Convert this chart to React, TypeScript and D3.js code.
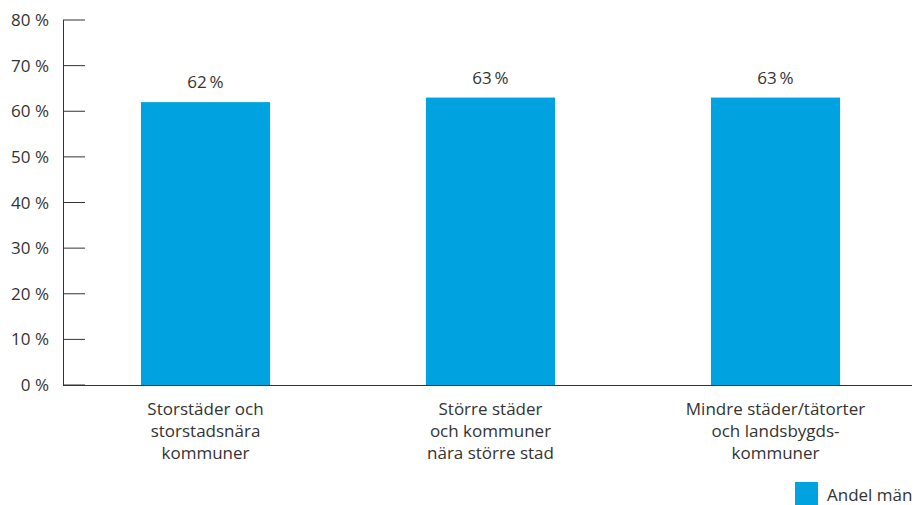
import React from "react";
import * as d3 from "d3";

const categories: string[][] = [
  ["Storstäder och", "storstadsnära", "kommuner"],
  ["Större städer", "och kommuner", "nära större stad"],
  ["Mindre städer/tätorter", "och landsbygds-", "kommuner"],
];
const values: number[] = [62, 63, 63];
const yTicks: number[] = [0, 10, 20, 30, 40, 50, 60, 70, 80];
const seriesName = "Andel män";

const W = 916;
const H = 505;
const FONT = "'Open Sans', sans-serif";
const BAR = "#00a3e0";
const TEXT = "#333333";
const FS = 17;

export default function App() {
  const x = d3
    .scaleBand<number>()
    .domain(values.map((_, i) => i))
    .range([63, 918])
    .paddingInner(0.547)
    .paddingOuter(0.2735);
  const y = d3.scaleLinear().domain([0, 80]).range([385, 20]);

  return (
    <svg
      width={W}
      height={H}
      style={{ position: "absolute", left: 0, top: 0 }}
      fontFamily={FONT}
    >
      {values.map((v, i) => (
        <g key={i}>
          <rect
            x={x(i)!}
            y={y(v)}
            width={x.bandwidth()}
            height={y(0) - y(v)}
            fill={BAR}
          />
          <text
            x={x(i)! + x.bandwidth() / 2}
            y={y(v) - 14}
            textAnchor="middle"
            fontSize={FS}
            fill={TEXT}
          >
            {v}{"\u2009"}%
          </text>
          {categories[i].map((line, j) => (
            <text
              key={j}
              x={x(i)! + x.bandwidth() / 2}
              y={415 + j * 22}
              textAnchor="middle"
              fontSize={FS}
              fill={TEXT}
            >
              {line}
            </text>
          ))}
        </g>
      ))}
      {yTicks.map((t) => (
        <g key={t}>
          <line x1={63} x2={85} y1={y(t)} y2={y(t)} stroke="#333" strokeWidth={1} />
          <text
            x={49}
            y={y(t) + 6}
            textAnchor="end"
            fontSize={FS}
            fill={TEXT}
          >
            {t} %
          </text>
        </g>
      ))}
      <line x1={63.5} x2={63.5} y1={y(80)} y2={y(0)} stroke="#333" strokeWidth={1} />
      <line x1={63} x2={912} y1={y(0) + 0.5} y2={y(0) + 0.5} stroke="#333" strokeWidth={1} />
      <rect x={795} y={482} width={23} height={23} fill={BAR} />
      <text x={827} y={501} fontSize={FS} fill={TEXT}>
        {seriesName}
      </text>
    </svg>
  );
}
